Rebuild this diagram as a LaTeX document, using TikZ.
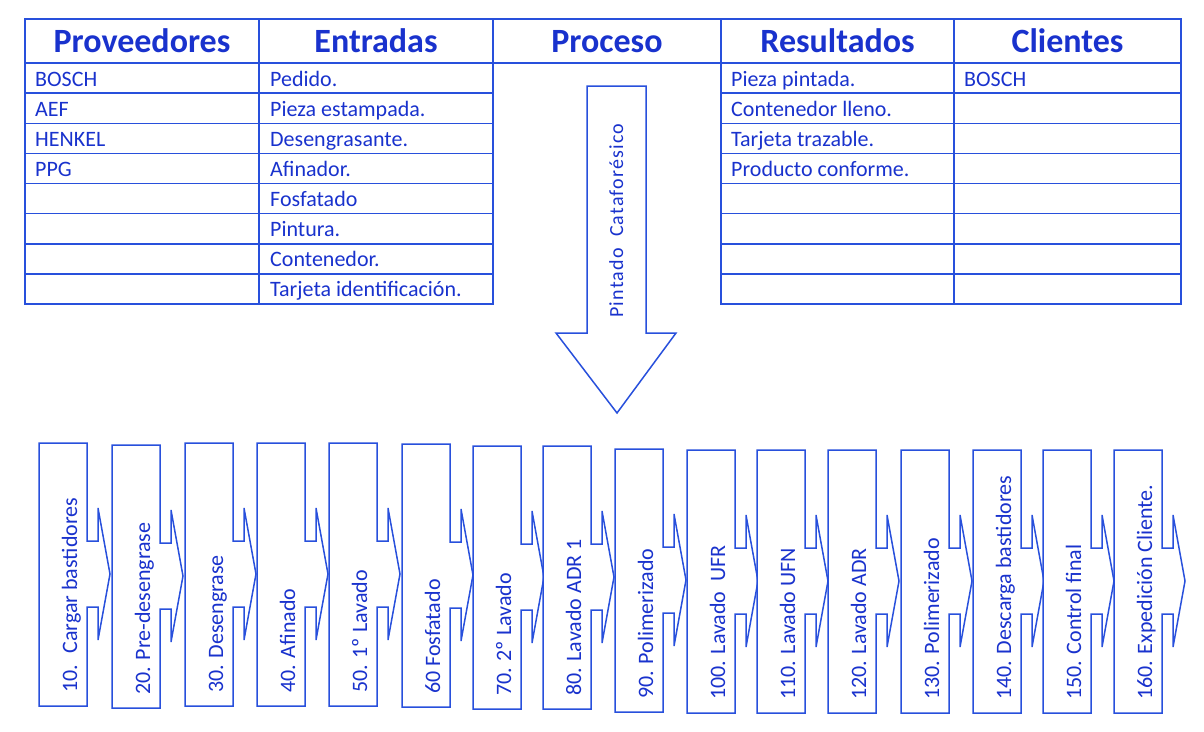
\documentclass[tikz,border=0pt]{standalone}
\usepackage{fontspec}
\setmainfont{Carlito}
\newfontfamily\spacedfont[LetterSpace=6]{Carlito}
\definecolor{lineblue}{RGB}{40,80,220}
\definecolor{textblue}{RGB}{25,50,205}

\begin{document}
\begin{tikzpicture}[x=1pt, y=-1pt,
  grid/.style={draw=lineblue, line width=1.5pt},
  head/.style={text=textblue, font=\fontsize{34}{40}\selectfont\bfseries, anchor=base},
  cell/.style={text=textblue, font=\fontsize{22}{26}\selectfont, anchor=base west, inner sep=0pt},
  stepbox/.style={draw=lineblue, line width=1.5pt, fill=white},
  steptext/.style={text=textblue, font=\fontsize{22}{26}\selectfont, rotate=90, anchor=base west, inner sep=0pt}]
  \useasboundingbox (0,0) rectangle (1204,731);

  % tabla SIPOC
  \draw[grid] (25,19) rectangle (1181,63);
  \draw[grid] (25,63) rectangle (493,304);
  \draw[grid] (721,63) rectangle (1181,304);
  \foreach \xc in {259,493,721,954}
    \draw[grid] (\xc,19) -- (\xc,304);
  \foreach \r in {1,...,7} {
    \draw[grid] (25,{63+30.125*\r}) -- (493,{63+30.125*\r});
    \draw[grid] (721,{63+30.125*\r}) -- (1181,{63+30.125*\r});
  }

  \node[head] (hprov) at (142,52) {Proveedores};
  \node[head] (hent) at (376,52) {Entradas};
  \node[head] (hproc) at (607,52) {Proceso};
  \node[head] (hres) at (837.5,52) {Resultados};
  \node[head] (hcli) at (1067.5,52) {Clientes};

  \foreach \txt [count=\k] in {BOSCH, AEF, HENKEL, PPG}
    \node[cell] (prov\k) at (35,{63+30.125*(\k-0.5)+8}) {\txt};
  \foreach \txt [count=\k] in {Pedido., Pieza estampada., Desengrasante., Afinador.,
      Fosfatado, Pintura., Contenedor., Tarjeta identificación.}
    \node[cell] (ent\k) at (270,{63+30.125*(\k-0.5)+8}) {\txt};
  \foreach \txt [count=\k] in {Pieza pintada., Contenedor lleno., Tarjeta trazable.,
      Producto conforme.}
    \node[cell] (res\k) at (731,{63+30.125*(\k-0.5)+8}) {\txt};
  \node[cell] (cli1) at (964,{63+30.125*0.5+8}) {BOSCH};

  % flecha del proceso
  \draw[stepbox] (587,86) -- (646,86) -- (646,333) -- (676,333) -- (617,413)
    -- (556,333) -- (587,333) -- cycle;
  \node[text=textblue, font=\spacedfont\fontsize{20}{24}\selectfont, rotate=90,
    anchor=base west, inner sep=0pt] (proc) at (623,318) {Pintado~ Cataforésico};

  % etapas
  \foreach \xo/\t/\txt [count=\i] in {
      39/443/{10.~ Cargar bastidores}, 112/445/{20. Pre-desengrase},
      185/443/{30. Desengrase}, 257/443/{40. Afinado},
      329/443/{50. 1º Lavado}, 402/444/{60 Fosfatado},
      473/446/{70. 2º Lavado}, 543/446/{80. Lavado ADR 1},
      615/449/{90. Polimerizado}, 687/450/{100. Lavado~ UFR},
      757/450/{110. Lavado UFN}, 828/450/{120. Lavado ADR},
      901/450/{130. Polimerizado}, 973/450/{140. Descarga bastidores},
      1043/450/{150. Control final}, 1114/450/{160. Expedición Cliente.}} {
    \draw[stepbox] (\xo,\t) -- ++(48,0) -- ++(0,98) -- ++(11,0) -- ++(0,-33)
      -- ++(12,66) -- ++(-12,66) -- ++(0,-33) -- ++(-11,0) -- ++(0,99)
      -- ++(-48,0) -- cycle;
    \node[steptext] (paso\i) at (\xo+38,\t+250) {\txt};
  }
\end{tikzpicture}
\end{document}
